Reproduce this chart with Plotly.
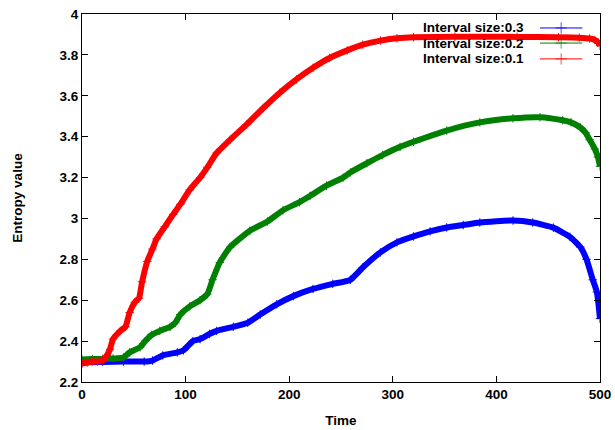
import plotly.graph_objects as go

# ---- data ----
labels = ["Interval size:0.3", "Interval size:0.2", "Interval size:0.1"]
colors = ["#0000ff", "#008000", "#ff0000"]

t_03 = [0, 20, 40, 60, 68, 78, 92, 98, 107, 114, 123, 130, 146, 160, 172, 188, 204, 223, 242, 259,
        271, 288, 304, 320, 336, 352, 368, 384, 416, 435, 455, 471, 481, 487, 493, 497, 500]
v_03 = [2.297, 2.298, 2.30, 2.30, 2.305, 2.33, 2.345, 2.355, 2.40, 2.41, 2.435, 2.45, 2.47, 2.49,
        2.53, 2.58, 2.62, 2.655, 2.68, 2.70, 2.76, 2.834, 2.883, 2.912, 2.937, 2.956, 2.968, 2.98,
        2.99, 2.98, 2.955, 2.91, 2.86, 2.80, 2.70, 2.64, 2.51]

t_02 = [0, 10, 20, 30, 40, 46, 56, 61, 67, 75, 85, 90, 95, 104, 114, 121, 126, 133, 143, 162, 179,
        194, 210, 220, 236, 252, 259, 275, 290, 307, 320, 352, 384, 416, 442, 464, 472, 481, 486,
        490, 495, 498, 500]
v_02 = [2.31, 2.312, 2.313, 2.315, 2.32, 2.345, 2.37, 2.40, 2.43, 2.45, 2.47, 2.49, 2.53, 2.57,
        2.60, 2.63, 2.70, 2.785, 2.86, 2.94, 2.985, 3.04, 3.08, 3.11, 3.16, 3.20, 3.225, 3.27, 3.31,
        3.35, 3.375, 3.43, 3.47, 3.49, 3.495, 3.48, 3.47, 3.445, 3.42, 3.385, 3.34, 3.30, 3.255]

t_01 = [0, 5, 10, 15, 20, 24, 27, 30, 37, 42, 46, 51, 55, 58, 63, 68, 72, 80, 88, 95, 104, 114, 121,
        130, 143, 159, 175, 191, 207, 223, 239, 256, 271, 288, 304, 320, 360, 420, 460, 480, 490,
        495, 498, 500]
v_01 = [2.29, 2.295, 2.30, 2.30, 2.305, 2.33, 2.36, 2.41, 2.45, 2.47, 2.54, 2.59, 2.61, 2.69, 2.79,
        2.85, 2.90, 2.96, 3.02, 3.07, 3.14, 3.20, 3.25, 3.32, 3.385, 3.46, 3.54, 3.615, 3.68, 3.737,
        3.785, 3.822, 3.85, 3.87, 3.881, 3.886, 3.889, 3.888, 3.886, 3.884, 3.88, 3.873, 3.862,
        3.845]

series_t = [t_03, t_02, t_01]
series_v = [v_03, v_02, v_01]

x_ticks = [0, 100, 200, 300, 400, 500]
y_ticks = [2.2, 2.4, 2.6, 2.8, 3.0, 3.2, 3.4, 3.6, 3.8, 4.0]
y_ticktext = ["2.2", "2.4", "2.6", "2.8", "3", "3.2", "3.4", "3.6", "3.8", "4"]

FONT = "Liberation Sans, Arial, sans-serif"
FS = 13.5

fig = go.Figure()

for t, v, c in zip(series_t, series_v, colors):
    fig.add_trace(go.Scatter(
        x=t, y=v, mode="lines+markers",
        line=dict(color=c, width=6, shape="spline", smoothing=0.5),
        marker=dict(symbol="cross-thin", size=6, line=dict(color=c, width=1)),
        showlegend=False, hoverinfo="skip",
    ))

# custom gnuplot-style key (text on the left, sample on the right) on an overlay axis
key_y = [0.962, 0.921, 0.878]
for lab, c, ky in zip(labels, colors, key_y):
    fig.add_trace(go.Scatter(
        x=[0.884, 0.925, 0.966], y=[ky, ky, ky], xaxis="x2", yaxis="y2",
        mode="lines+markers", line=dict(color=c, width=1),
        marker=dict(symbol="cross-thin", size=[0, 8, 0], line=dict(color=c, width=1)),
        showlegend=False, hoverinfo="skip",
    ))
    fig.add_annotation(x=0.857, y=ky, xref="x2", yref="y2", text=lab, showarrow=False,
                       xanchor="right", yanchor="middle",
                       font=dict(family=FONT, size=FS, color="black", weight="bold"))

axis_common = dict(showline=True, linecolor="black", linewidth=1, mirror="ticks",
                   ticks="inside", ticklen=6, tickcolor="black", showgrid=False, zeroline=False,
                   automargin=False,
                   tickfont=dict(family=FONT, size=FS, color="black", weight="bold"))

fig.update_layout(
    width=615, height=430,
    margin=dict(l=82, r=15, t=14, b=48),
    paper_bgcolor="white", plot_bgcolor="white",
    font=dict(family=FONT, size=FS, color="black", weight="bold"),
    xaxis=dict(range=[0, 500], tickvals=x_ticks, **axis_common,
               title=dict(text="Time", standoff=14,
                          font=dict(family=FONT, size=FS, color="black", weight="bold"))),
    yaxis=dict(range=[2.2, 4.0], tickvals=y_ticks, ticktext=y_ticktext, **axis_common,
               title=dict(text="Entropy value", standoff=33,
                          font=dict(family=FONT, size=FS, color="black", weight="bold"))),
    xaxis2=dict(overlaying="x", range=[0, 1], visible=False),
    yaxis2=dict(overlaying="y", range=[0, 1], visible=False),
    showlegend=False,
)

fig.write_html("out.html")
